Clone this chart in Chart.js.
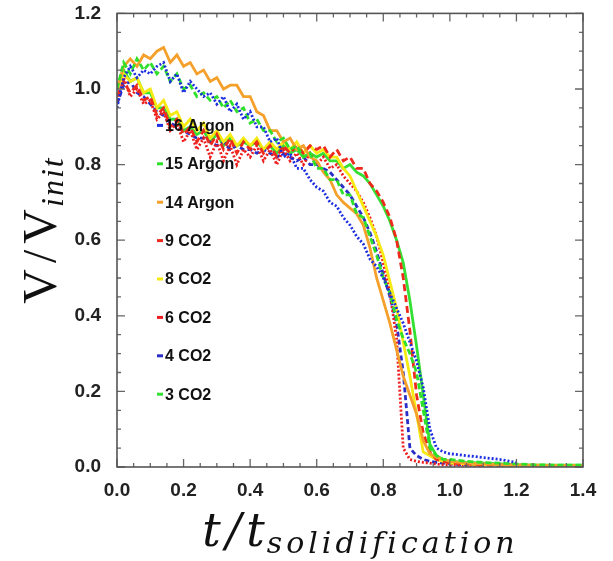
<!DOCTYPE html>
<html>
<head>
<meta charset="utf-8">
<script src="https://cdn.jsdelivr.net/npm/chart.js@4.4.1/dist/chart.umd.min.js"></script>
<style>
  body { margin: 0; background: #fff; }
  #wrap { width: 613px; height: 561px; }
</style>
</head>
<body>
<div id="wrap"><canvas id="chart" width="613" height="561"></canvas></div>
<script>
// time axis shared by all runs (t / t_solidification)
const tValues = [
    0.00, 0.02, 0.04, 0.06, 0.08, 0.10, 0.12, 0.14, 0.16, 0.18,
    0.20, 0.22, 0.24, 0.26, 0.28, 0.30, 0.32, 0.34, 0.36, 0.38,
    0.40, 0.42, 0.44, 0.46, 0.48, 0.50, 0.52, 0.54, 0.56, 0.58,
    0.60, 0.62, 0.64, 0.66, 0.68, 0.70, 0.72, 0.74, 0.76, 0.78,
    0.80, 0.82, 0.84, 0.86, 0.88, 0.90, 0.92, 0.94, 0.96, 0.98,
    1.00, 1.05, 1.10, 1.15, 1.20, 1.25, 1.30, 1.35, 1.40
];

// V / V_init for each run
const argon16 = [
    0.95, 1.03, 1.06, 1.03, 1.05, 1.04, 1.06, 1.07, 1.02, 1.04,
    0.99, 1.02, 1.00, 0.98, 0.99, 0.96, 0.98, 0.94, 0.96, 0.92,
    0.94, 0.90, 0.90, 0.86, 0.87, 0.82, 0.83, 0.79, 0.79, 0.76,
    0.74, 0.73, 0.70, 0.69, 0.66, 0.64, 0.61, 0.59, 0.55, 0.53,
    0.50, 0.46, 0.42, 0.38, 0.33, 0.28, 0.21, 0.10, 0.05, 0.04,
    0.035, 0.03, 0.025, 0.02, 0.012, null, null, null, null
];
const argon15 = [
    1.00, 1.07, 1.04, 1.08, 1.05, 1.07, 1.04, 1.06, 1.02, 1.04,
    1.00, 1.01, 0.98, 0.99, 0.97, 0.98, 0.95, 0.97, 0.94, 0.95,
    0.91, 0.92, 0.89, 0.89, 0.86, 0.87, 0.84, 0.85, 0.82, 0.83,
    0.79, 0.79, 0.76, 0.76, 0.72, 0.72, 0.67, 0.66, 0.61, 0.56,
    0.50, 0.46, 0.39, 0.34, 0.30, 0.25, 0.15, 0.05, 0.03, 0.02,
    0.02, 0.015, 0.012, 0.01, 0.008, 0.006, 0.005, 0.005, 0.005
];
const argon14 = [
    1.00, 1.06, 1.08, 1.06, 1.09, 1.08, 1.10, 1.11, 1.07, 1.09,
    1.06, 1.07, 1.04, 1.05, 1.02, 1.03, 1.00, 1.01, 1.01, 0.98,
    0.98, 0.94, 0.93, 0.89, 0.89, 0.86, 0.87, 0.84, 0.85, 0.82,
    0.81, 0.78, 0.76, 0.72, 0.70, 0.685, 0.67, 0.64, 0.58, 0.50,
    0.44, 0.38, 0.31, 0.24, 0.19, 0.14, 0.07, 0.035, 0.025, 0.02,
    0.015, 0.01, 0.008, 0.006, 0.005, 0.005, 0.004, 0.004, 0.004
];
const co2Run9 = [
    0.98, 1.02, 0.99, 1.01, 0.97, 0.98, 0.93, 0.95, 0.90, 0.92,
    0.88, 0.90, 0.86, 0.89, 0.85, 0.88, 0.84, 0.87, 0.83, 0.86,
    0.84, 0.86, 0.83, 0.85, 0.82, 0.85, 0.83, 0.85, 0.83, 0.85,
    0.84, 0.85, 0.82, 0.84, 0.81, 0.82, 0.79, 0.79, 0.75, 0.73,
    0.70, 0.66, 0.60, 0.50, 0.36, 0.19, 0.09, 0.04, 0.02, 0.015,
    0.01, 0.008, 0.006, 0.005, 0.005, 0.004, 0.004, 0.004, 0.004
];
const co2Run8 = [
    1.00, 1.04, 1.02, 1.03, 0.99, 1.00, 0.95, 0.97, 0.93, 0.94,
    0.90, 0.92, 0.89, 0.91, 0.87, 0.89, 0.86, 0.88, 0.85, 0.87,
    0.85, 0.87, 0.84, 0.86, 0.84, 0.86, 0.84, 0.86, 0.83, 0.85,
    0.83, 0.84, 0.82, 0.82, 0.79, 0.77, 0.73, 0.69, 0.65, 0.61,
    0.56, 0.49, 0.42, 0.33, 0.24, 0.14, 0.04, 0.03, 0.02, 0.015,
    0.01, 0.008, 0.006, 0.005, 0.004, null, null, null, null
];
const co2Run6 = [
    0.97, 1.03, 0.98, 1.00, 0.96, 0.97, 0.92, 0.94, 0.89, 0.91,
    0.86, 0.89, 0.84, 0.87, 0.82, 0.86, 0.81, 0.85, 0.80, 0.84,
    0.82, 0.85, 0.81, 0.84, 0.80, 0.84, 0.81, 0.83, 0.80, 0.83,
    0.80, 0.82, 0.79, 0.80, 0.77, 0.75, 0.73, 0.70, 0.66, 0.61,
    0.54, 0.46, 0.34, 0.05, 0.02, 0.015, 0.012, 0.01, 0.008, 0.006,
    0.005, 0.004, 0.003, null, null, null, null, null, null
];
const co2Run4 = [
    0.96, 1.01, 1.02, 0.99, 0.98, 0.96, 0.94, 0.93, 0.91, 0.90,
    0.89, 0.88, 0.87, 0.87, 0.86, 0.85, 0.86, 0.84, 0.85, 0.84,
    0.84, 0.83, 0.84, 0.83, 0.82, 0.83, 0.82, 0.81, 0.82, 0.80,
    0.80, 0.79, 0.78, 0.76, 0.74, 0.72, 0.69, 0.66, 0.62, 0.57,
    0.51, 0.45, 0.38, 0.25, 0.05, 0.03, 0.02, 0.015, 0.012, 0.01,
    0.008, 0.006, 0.005, 0.004, null, null, null, null, null
];
const co2Run3 = [
    1.00, 1.05, 1.02, 1.03, 0.99, 0.99, 0.95, 0.95, 0.92, 0.92,
    0.89, 0.90, 0.88, 0.89, 0.86, 0.88, 0.85, 0.87, 0.85, 0.86,
    0.85, 0.86, 0.84, 0.85, 0.83, 0.85, 0.83, 0.84, 0.82, 0.83,
    0.82, 0.83, 0.81, 0.81, 0.79, 0.80, 0.78, 0.77, 0.75, 0.72,
    0.69, 0.65, 0.60, 0.54, 0.44, 0.32, 0.19, 0.06, 0.03, 0.02,
    0.015, 0.012, 0.01, 0.008, 0.006, 0.005, 0.005, 0.005, 0.005
];

const seriesLabels = ['16 Argon', '15 Argon', '14 Argon', '9 CO2', '8 CO2', '6 CO2', '4 CO2', '3 CO2'];
const seriesValues = [argon16, argon15, argon14, co2Run9, co2Run8, co2Run6, co2Run4, co2Run3];
const seriesColors = ['#1c2ee0', '#2ee02a', '#f5a02a', '#ee2a1c', '#f6ea12', '#ee1c1c', '#2a2ec8', '#34e034'];
const seriesDashes = [[2, 2], [6, 3], [], [7, 4], [], [2, 2], [5, 3], []];

function points(values) {
    return tValues.map((t, i) => ({ x: t, y: values[i] }));
}

// ticks pointing inward on all four sides, the box, legend and titles
const frameTicks = {
    id: 'frameTicks',
    afterDatasetsDraw(chart) {
        const ctx = chart.ctx;
        const a = chart.chartArea;
        const xs = chart.scales.x, ys = chart.scales.y;
        ctx.save();
        ctx.strokeStyle = '#666';
        ctx.lineWidth = 1.3;

        function withMinor(scale) {
            const major = scale.ticks.map(t => t.value);
            const minor = [];
            for (let i = 0; i < major.length - 1; i++) {
                for (let k = 1; k < 4; k++) minor.push(major[i] + k * (major[i + 1] - major[i]) / 4);
            }
            return { major, minor };
        }

        const xt = withMinor(xs), yt = withMinor(ys);
        ctx.beginPath();
        [[xt.major, 8], [xt.minor, 4]].forEach(([vals, len]) => {
            vals.forEach(v => {
                const px = xs.getPixelForValue(v);
                ctx.moveTo(px, a.bottom); ctx.lineTo(px, a.bottom - len);
                ctx.moveTo(px, a.top); ctx.lineTo(px, a.top + len);
            });
        });
        [[yt.major, 8], [yt.minor, 4]].forEach(([vals, len]) => {
            vals.forEach(v => {
                const py = ys.getPixelForValue(v);
                ctx.moveTo(a.left, py); ctx.lineTo(a.left + len, py);
                ctx.moveTo(a.right, py); ctx.lineTo(a.right - len, py);
            });
        });
        ctx.stroke();

        ctx.strokeStyle = '#555';
        ctx.lineWidth = 1.6;
        ctx.strokeRect(a.left, a.top, a.right - a.left, a.bottom - a.top);

        // legend inside the plot
        ctx.font = 'bold 16px "Liberation Sans", Arial, sans-serif';
        ctx.textBaseline = 'middle';
        chart.data.datasets.forEach((ds, i) => {
            const ly = a.top + 112 + i * 38.4;
            const lx = a.left + 40;
            ctx.strokeStyle = ds.borderColor;
            ctx.lineWidth = 3;
            ctx.setLineDash([]);
            ctx.beginPath();
            ctx.moveTo(lx, ly); ctx.lineTo(lx + 6, ly);
            ctx.stroke();
            ctx.fillStyle = '#111';
            ctx.fillText(ds.label, lx + 8, ly + 1);
        });
        ctx.restore();
    },
    afterDraw(chart) {
        const ctx = chart.ctx;
        ctx.save();
        ctx.fillStyle = '#111';
        ctx.textBaseline = 'alphabetic';

        // x title: t / t_solidification
        const mainFont = 'italic 46px "DejaVu Serif", serif';
        const subFont = 'italic 30px "DejaVu Serif", serif';
        ctx.font = mainFont;
        ctx.letterSpacing = '5px';
        const wMain = ctx.measureText('t/t').width;
        ctx.font = subFont;
        ctx.letterSpacing = '4px';
        const wSub = ctx.measureText('solidification').width;
        const x0 = 362 - (wMain + wSub) / 2;
        ctx.font = mainFont;
        ctx.letterSpacing = '5px';
        ctx.fillText('t/t', x0, 546);
        ctx.font = subFont;
        ctx.letterSpacing = '4px';
        ctx.fillText('solidification', x0 + wMain - 3, 553);

        // y title: V / V_init (upright V, italic subscript)
        ctx.translate(56, 228);
        ctx.rotate(-Math.PI / 2);
        const vFont = '48px "Liberation Serif", serif';
        const iFont = 'italic 32px "Liberation Serif", serif';
        ctx.font = vFont;
        ctx.letterSpacing = '6px';
        const wMY = ctx.measureText('V/V').width;
        ctx.font = iFont;
        ctx.letterSpacing = '2px';
        const wSY = ctx.measureText('init').width;
        const y0 = -(wMY + wSY) / 2;
        ctx.font = vFont;
        ctx.letterSpacing = '6px';
        ctx.fillText('V/V', y0, 0);
        ctx.font = iFont;
        ctx.letterSpacing = '2px';
        ctx.fillText('init', y0 + wMY - 4, 7);
        ctx.restore();
    }
};

const tickFont = { family: '"Liberation Sans", Arial, sans-serif', size: 19, weight: 'bold' };

new Chart(document.getElementById('chart').getContext('2d'), {
    type: 'line',
    data: {
        datasets: seriesLabels.map((label, i) => ({
            label: label,
            data: points(seriesValues[i]),
            borderColor: seriesColors[i],
            backgroundColor: seriesColors[i],
            borderDash: seriesDashes[i],
            borderWidth: 2.8,
            pointRadius: 0,
            tension: 0,
            fill: false,
            spanGaps: false
        }))
    },
    options: {
        responsive: false,
        animation: false,
        layout: { padding: { top: 0, right: 30, left: 0, bottom: 0 } },
        plugins: {
            legend: { display: false },
            tooltip: { enabled: false }
        },
        scales: {
            x: {
                type: 'linear',
                min: 0,
                max: 1.4,
                afterFit: s => { s.height = 94; },
                grid: { display: false, drawTicks: false },
                border: { display: false },
                ticks: {
                    stepSize: 0.2,
                    padding: 12,
                    color: '#222',
                    font: tickFont,
                    maxRotation: 0,
                    callback: v => v.toFixed(1)
                }
            },
            y: {
                min: 0,
                max: 1.2,
                afterFit: s => { s.width = 117; },
                // invisible tick marks only push the labels left
                grid: { display: true, drawOnChartArea: false, drawTicks: true, tickLength: 14, color: 'rgba(0,0,0,0)' },
                border: { display: false },
                ticks: {
                    stepSize: 0.2,
                    padding: 2,
                    color: '#222',
                    font: tickFont,
                    callback: v => v.toFixed(1)
                }
            }
        }
    },
    plugins: [frameTicks]
});
</script>
</body>
</html>
